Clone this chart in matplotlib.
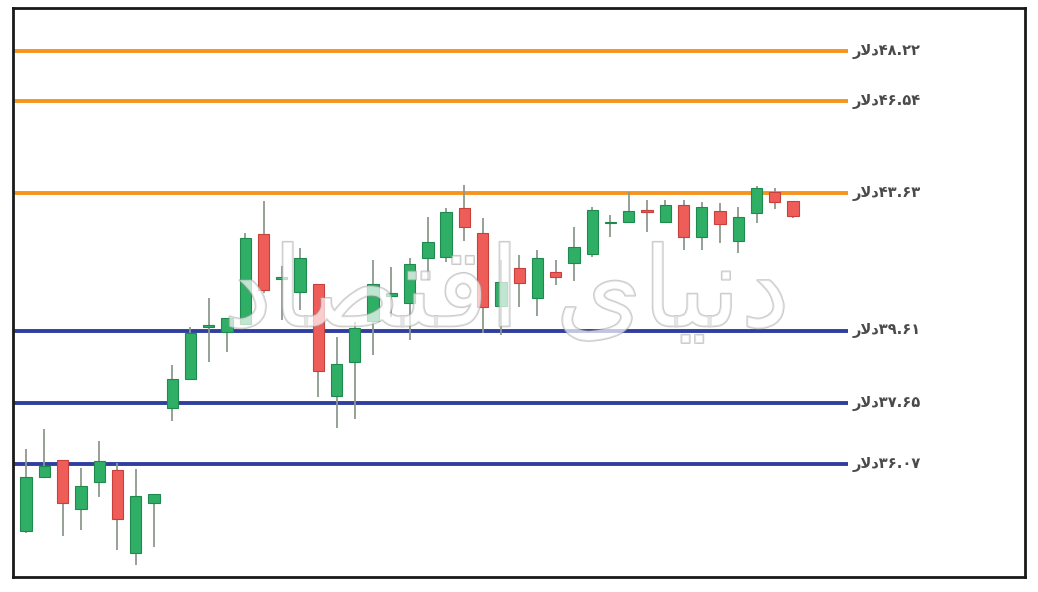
import numpy as np
import matplotlib
matplotlib.use("Agg")
import matplotlib.pyplot as plt
import matplotlib.patheffects as pe

# ---- data ----
opens  = [34.42, 35.75, 36.17, 34.95, 35.62, 35.92, 33.88, 35.10,
          37.53, 38.30, 39.72, 39.59, 39.81, 42.40, 41.08, 40.72,
          40.94, 37.84, 38.76, 39.90, 40.59, 40.40, 41.69, 41.72,
          43.19, 42.42, 40.31, 41.41, 40.55, 41.29, 41.56, 41.81,
          42.73, 42.75, 43.11, 42.77, 43.28, 42.30, 43.09, 42.20,
          43.02, 43.68, 43.40]
closes = [35.74, 36.03, 35.09, 35.52, 36.15, 34.70, 35.27, 35.32,
          38.30, 39.55, 39.78, 39.97, 42.28, 40.77, 41.15, 41.70,
          38.52, 38.70, 39.70, 40.94, 40.68, 41.52, 42.17, 43.07,
          42.62, 40.29, 41.00, 40.98, 41.70, 41.13, 42.01, 43.12,
          42.76, 43.08, 43.05, 43.28, 42.30, 43.22, 42.70, 42.90,
          43.79, 43.36, 42.94]
highs  = [36.45, 36.97, 36.17, 35.97, 36.66, 36.10, 35.94, 35.32,
          38.67, 39.73, 40.54, 39.97, 42.44, 43.41, 41.46, 41.99,
          40.94, 39.45, 39.87, 41.63, 41.44, 41.69, 42.91, 43.18,
          43.89, 42.87, 41.63, 41.78, 41.93, 41.63, 42.60, 43.21,
          42.97, 43.68, 43.43, 43.43, 43.43, 43.38, 43.35, 43.22,
          43.86, 43.79, 43.40]
lows   = [34.36, 35.74, 34.29, 34.43, 35.24, 33.95, 33.60, 34.03,
          37.18, 38.27, 38.76, 39.04, 39.81, 40.68, 39.92, 40.20,
          37.82, 36.99, 37.23, 38.95, 40.01, 39.36, 41.05, 41.58,
          42.20, 39.55, 39.50, 40.29, 40.03, 40.91, 41.02, 41.73,
          42.32, 42.75, 42.47, 42.72, 41.93, 41.93, 42.14, 41.83,
          42.72, 43.14, 42.89]

resistance_levels = [48.22, 46.54, 43.63]
support_levels    = [39.61, 37.65, 36.07]
currency_word = "\uFEAD\uFEFB\uFEA9"   # "دلار" in visual (shaped) order
watermark_text = "\uFEA9\uFE8E\uFEBC\uFE98\uFED7\uFE8D \uFEEF\uFE8E\uFEF4\uFEE7\uFEA9"  # "دنیای اقتصاد"

# ---- style ----
GREEN = "#2fae66"
GREEN_EDGE = "#1f8a4e"
RED = "#ef5d58"
RED_EDGE = "#c8403c"
WICK = "#8c988e"
ORANGE = "#f7941d"
BLUE = "#303f9f"

persian_digits = str.maketrans("0123456789", "۰۱۲۳۴۵۶۷۸۹")

fig = plt.figure(figsize=(10.38, 5.92), dpi=100)
ax = fig.add_axes([13/1038, 15/592, 1012/1038, 569/592])
ax.set_yscale("log")

x = np.arange(len(opens))
o = np.array(opens); c = np.array(closes)
h = np.array(highs); l = np.array(lows)
up = c >= o

ax.vlines(x, l, h, color=WICK, lw=1.3, zorder=2)
bottoms = np.minimum(o, c)
heights = np.abs(c - o)
ax.bar(x[up], heights[up], bottom=bottoms[up], width=0.62,
       color=GREEN, edgecolor=GREEN_EDGE, lw=0.8, zorder=3)
ax.bar(x[~up], heights[~up], bottom=bottoms[~up], width=0.62,
       color=RED, edgecolor=RED_EDGE, lw=0.8, zorder=3)

x_left, x_line_end = -0.72, 45.0
for lv in resistance_levels:
    ax.hlines(lv, x_left, x_line_end, color=ORANGE, lw=2.8, zorder=1)
for lv in support_levels:
    ax.hlines(lv, x_left, x_line_end, color=BLUE, lw=2.8, zorder=1)
for lv in resistance_levels + support_levels:
    label = currency_word + f"{lv:.2f}".translate(persian_digits)
    ax.text(x_line_end + 0.25, lv, label, ha="left", va="center",
            fontsize=10.5, fontweight="bold", color="#4a4a4a",
            family=["DejaVu Sans Condensed", "DejaVu Sans"])

# watermark
ax.text(26.3, 40.6, watermark_text, ha="center", va="center",
        fontsize=80, color=(1, 1, 1, 0.45), zorder=4,
        family=["DejaVu Sans"],
        path_effects=[pe.withStroke(linewidth=1.4, foreground=(0.62, 0.62, 0.62, 0.55))])

ax.set_xlim(x_left, 54.7)
ax.set_ylim(33.32, 49.70)
ax.set_xticks([]); ax.set_yticks([])
ax.yaxis.set_minor_locator(matplotlib.ticker.NullLocator())
for s in ax.spines.values():
    s.set_linewidth(2)
    s.set_color("#1a1a1a")

fig.savefig("out.png", dpi=100)
